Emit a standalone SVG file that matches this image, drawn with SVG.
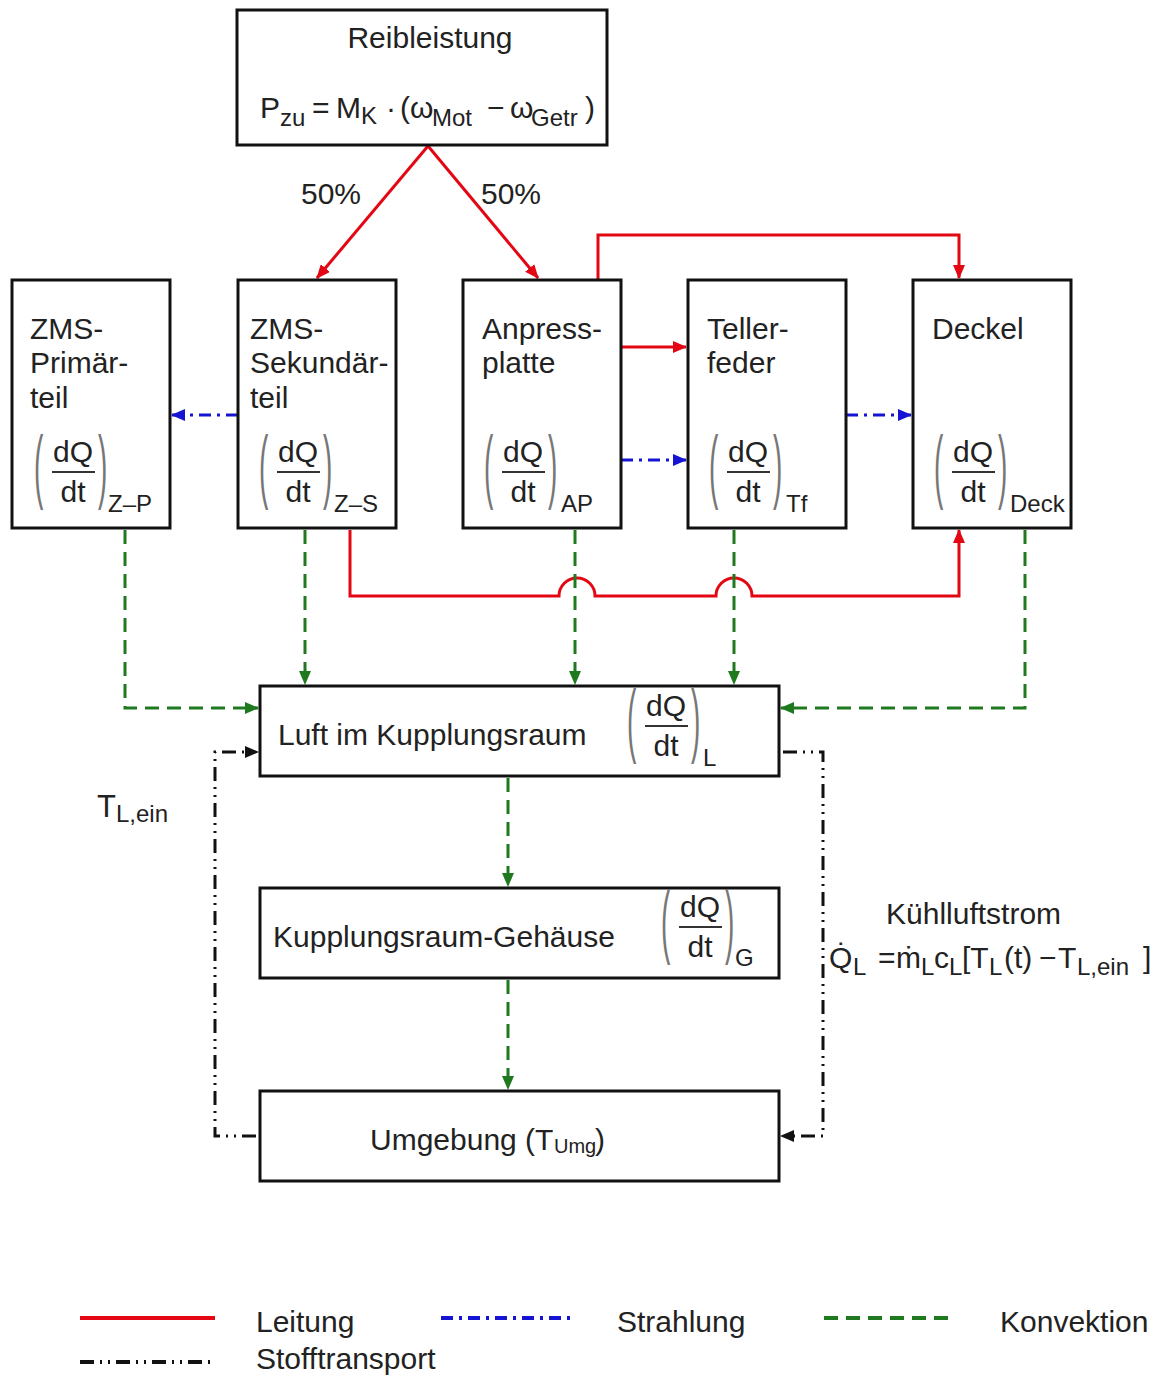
<svg xmlns="http://www.w3.org/2000/svg" width="1159" height="1378" viewBox="0 0 1159 1378">
<style>
text{font-family:"Liberation Sans",Arial,sans-serif;font-size:30px;fill:#222}
.sub{font-size:24px}
.par{fill:#777;font-size:28px}
.box{fill:#fff;stroke:#111;stroke-width:3}
.bar{stroke:#333;stroke-width:2}
.red{fill:none;stroke:#e30613;stroke-width:3}
.grn{fill:none;stroke:#1f7a1f;stroke-width:3;stroke-dasharray:14 8}
.blu{fill:none;stroke:#1414d2;stroke-width:3;stroke-dasharray:12 6 3 6}
.blk{fill:none;stroke:#111;stroke-width:3;stroke-dasharray:14 6 2 6 2 6}
</style>
<defs>
<marker id="ar" markerUnits="userSpaceOnUse" markerWidth="14" markerHeight="12" refX="13" refY="6" orient="auto"><path d="M0,0L14,6L0,12z" fill="#e30613"/></marker>
<marker id="ag" markerUnits="userSpaceOnUse" markerWidth="14" markerHeight="12" refX="13" refY="6" orient="auto"><path d="M0,0L14,6L0,12z" fill="#1f7a1f"/></marker>
<marker id="ab" markerUnits="userSpaceOnUse" markerWidth="14" markerHeight="12" refX="13" refY="6" orient="auto"><path d="M0,0L14,6L0,12z" fill="#1414d2"/></marker>
<marker id="ak" markerUnits="userSpaceOnUse" markerWidth="14" markerHeight="12" refX="13" refY="6" orient="auto"><path d="M0,0L14,6L0,12z" fill="#111"/></marker>
<g id="frac">
<text x="61" y="462" text-anchor="middle">dQ</text>
<line class="bar" x1="40" y1="472" x2="83" y2="472"/>
<text x="61" y="502" text-anchor="middle">dt</text>
<text class="par" transform="translate(22,493) scale(1,2.9)">(</text>
<text class="par" transform="translate(86,493) scale(1,2.9)">)</text>
</g>
</defs>

<g id="connectors">
<path class="red" d="M428,146L317,278" marker-end="url(#ar)"/>
<path class="red" d="M428,146L538,278" marker-end="url(#ar)"/>
<path class="red" d="M598,280L598,235L959,235L959,278" marker-end="url(#ar)"/>
<path class="red" d="M621,347L686,347" marker-end="url(#ar)"/>
<path class="red" d="M350,530L350,596L559,596A18,18 0 0 1 595,596L716,596A18,18 0 0 1 752,596L959,596L959,530" marker-end="url(#ar)"/>
<path class="blu" d="M238,415L172,415" marker-end="url(#ab)"/>
<path class="blu" d="M621,460L686,460" marker-end="url(#ab)"/>
<path class="blu" d="M846,415L911,415" marker-end="url(#ab)"/>
<path class="grn" d="M125,530L125,708L258,708" marker-end="url(#ag)"/>
<path class="grn" d="M305,530L305,684" marker-end="url(#ag)"/>
<path class="grn" d="M575,530L575,684" marker-end="url(#ag)"/>
<path class="grn" d="M734,530L734,684" marker-end="url(#ag)"/>
<path class="grn" d="M1025,530L1025,708L781,708" marker-end="url(#ag)"/>
<path class="grn" d="M508,778L508,886" marker-end="url(#ag)"/>
<path class="grn" d="M508,980L508,1089" marker-end="url(#ag)"/>
<path class="blk" d="M256,1136L215,1136L215,752L258,752" marker-end="url(#ak)"/>
<path class="blk" d="M783,752L823,752L823,1136L781,1136" marker-end="url(#ak)"/>
</g>

<g id="reibleistung">
<rect class="box" x="237" y="10" width="370" height="135"/>
<text x="430" y="48" text-anchor="middle">Reibleistung</text>
<text><tspan x="260" y="118">P</tspan><tspan class="sub" x="280" y="126">zu</tspan><tspan x="312" y="118">=</tspan><tspan x="336" y="118">M</tspan><tspan class="sub" x="361" y="124">K</tspan><tspan x="386" y="118">·</tspan><tspan x="400" y="118">(ω</tspan><tspan class="sub" x="432" y="126">Mot</tspan><tspan x="487" y="118">−</tspan><tspan x="510" y="118">ω</tspan><tspan class="sub" x="531" y="126">Getr</tspan><tspan x="585" y="118">)</tspan></text>
</g>
<text x="301" y="204">50%</text>
<text x="481" y="204">50%</text>

<g id="zms-primaer">
<rect class="box" x="12" y="280" width="158" height="248"/>
<text x="30" y="339">ZMS-</text><text x="30" y="373">Primär-</text><text x="30" y="408">teil</text>
<use href="#frac" x="12"/>
<text class="sub" x="108" y="512">Z–P</text>
</g>
<g id="zms-sekundaer">
<rect class="box" x="238" y="280" width="158" height="248"/>
<text x="250" y="339">ZMS-</text><text x="250" y="373">Sekundär-</text><text x="250" y="408">teil</text>
<use href="#frac" x="237"/>
<text class="sub" x="334" y="512">Z–S</text>
</g>
<g id="anpressplatte">
<rect class="box" x="463" y="280" width="158" height="248"/>
<text x="482" y="339">Anpress-</text><text x="482" y="373">platte</text>
<use href="#frac" x="462"/>
<text class="sub" x="561" y="512">AP</text>
</g>
<g id="tellerfeder">
<rect class="box" x="688" y="280" width="158" height="248"/>
<text x="707" y="339">Teller-</text><text x="707" y="373">feder</text>
<use href="#frac" x="687"/>
<text class="sub" x="786" y="512">Tf</text>
</g>
<g id="deckel">
<rect class="box" x="913" y="280" width="158" height="248"/>
<text x="932" y="339">Deckel</text>
<use href="#frac" x="912"/>
<text class="sub" x="1010" y="512">Deck</text>
</g>

<g id="luft">
<rect class="box" x="260" y="686" width="519" height="90"/>
<text x="278" y="745">Luft im Kupplungsraum</text>
<use href="#frac" x="605" y="254"/>
<text class="sub" x="703" y="766">L</text>
</g>
<g id="gehaeuse">
<rect class="box" x="260" y="888" width="519" height="90"/>
<text x="273" y="947">Kupplungsraum-Gehäuse</text>
<use href="#frac" x="639" y="455"/>
<text class="sub" x="735" y="966">G</text>
</g>
<g id="umgebung">
<rect class="box" x="260" y="1091" width="519" height="90"/>
<text><tspan x="370" y="1150">Umgebung (T</tspan><tspan font-size="20" x="554" y="1153">Umg</tspan><tspan x="595" y="1150">)</tspan></text>
</g>

<text><tspan font-size="31" x="97" y="817">T</tspan><tspan class="sub" x="116" y="822">L,ein</tspan></text>
<text x="886" y="924">Kühlluftstrom</text>
<text><tspan x="829" y="968">Q̇</tspan><tspan class="sub" x="853" y="975">L</tspan><tspan x="878" y="968">=</tspan><tspan x="896" y="968">ṁ</tspan><tspan class="sub" x="921" y="975">L</tspan><tspan x="934" y="968">c</tspan><tspan class="sub" x="949" y="975">L</tspan><tspan x="962" y="968">[T</tspan><tspan class="sub" x="989" y="975">L</tspan><tspan x="1004" y="968">(t)</tspan><tspan x="1039" y="968">−</tspan><tspan x="1058" y="968">T</tspan><tspan class="sub" x="1077" y="975">L,ein</tspan><tspan x="1143" y="968">]</tspan></text>

<g id="legend">
<line class="red" x1="80" y1="1318" x2="215" y2="1318" style="stroke-width:4"/>
<text x="256" y="1332">Leitung</text>
<line class="blu" x1="441" y1="1318" x2="573" y2="1318" style="stroke-width:4"/>
<text x="617" y="1332">Strahlung</text>
<line class="grn" x1="824" y1="1318" x2="953" y2="1318" style="stroke-width:4"/>
<text x="1000" y="1332">Konvektion</text>
<line class="blk" x1="80" y1="1362" x2="215" y2="1362" style="stroke-width:4"/>
<text x="256" y="1369">Stofftransport</text>
</g>
</svg>
